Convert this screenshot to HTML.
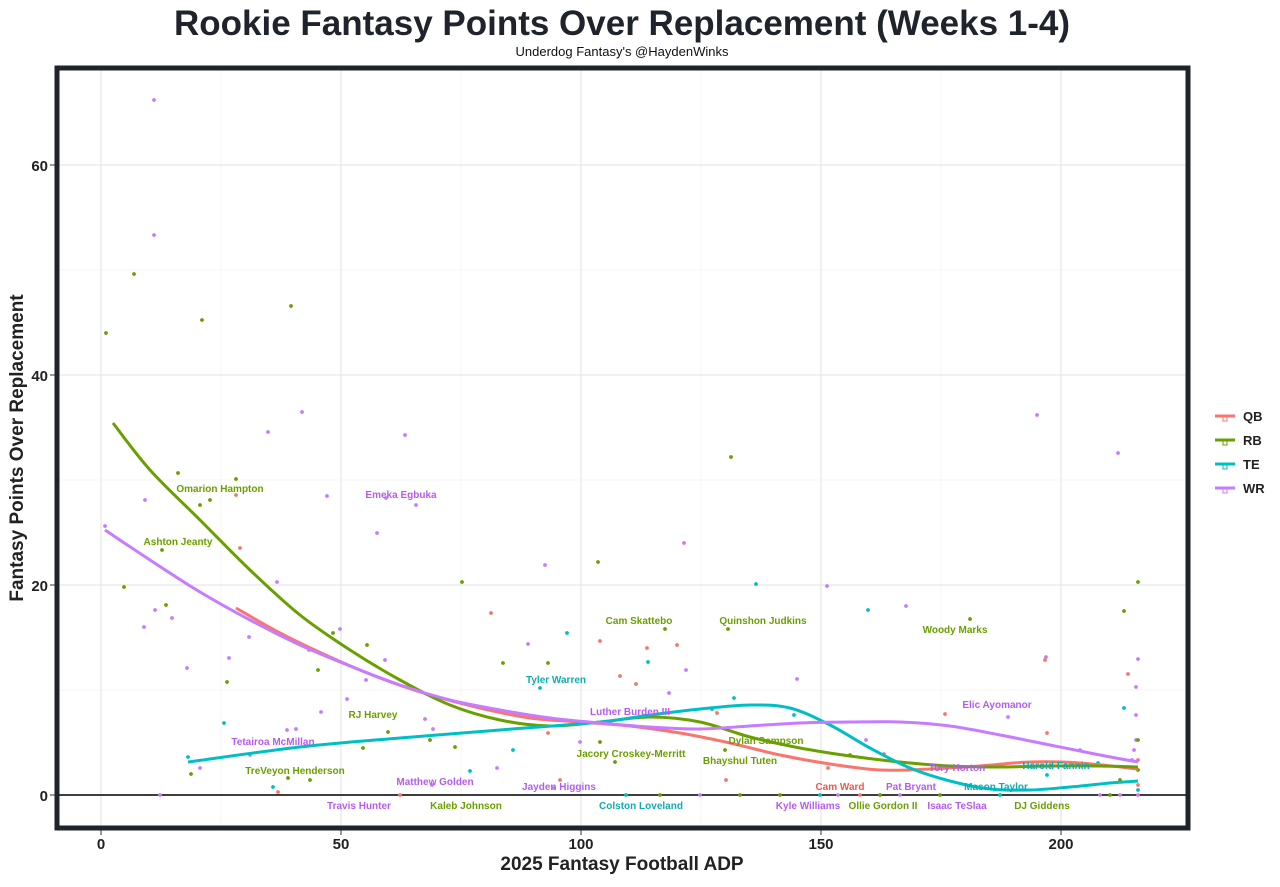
<!DOCTYPE html><html><head><style>body{margin:0;background:#fff}svg text{font-family:"Liberation Sans",sans-serif}</style></head><body>
<svg id="s" width="1280" height="882" xmlns="http://www.w3.org/2000/svg">
<rect width="1280" height="882" fill="#fff"/>
<text x="622" y="35" font-size="35" font-weight="bold" text-anchor="middle" fill="#1f232b">Rookie Fantasy Points Over Replacement (Weeks 1-4)</text>
<text x="622" y="56" font-size="13" text-anchor="middle" fill="#111">Underdog Fantasy's @HaydenWinks</text>
<g id="grid"></g>
<line x1="59" x2="1186" y1="795" y2="795" stroke="#000" stroke-width="1.5"/>
<g id="pts"></g><g id="lines"></g><g id="labs" font-size="10" font-weight="bold" text-anchor="middle"></g>
<rect x="57" y="68" width="1131" height="760" fill="none" stroke="#1f232b" stroke-width="5"/>
<g font-size="15" font-weight="bold" fill="#222" text-anchor="end">
<text x="48" y="171">60</text><text x="48" y="381">40</text><text x="48" y="591">20</text><text x="48" y="801">0</text></g>
<g font-size="15" font-weight="bold" fill="#222" text-anchor="middle">
<text x="101" y="849">0</text><text x="341" y="849">50</text><text x="581" y="849">100</text><text x="821" y="849">150</text><text x="1061" y="849">200</text></g>
<text x="622" y="870" font-size="19" font-weight="bold" text-anchor="middle" fill="#222">2025 Fantasy Football ADP</text>
<text transform="translate(23,448) rotate(-90)" font-size="19" font-weight="bold" text-anchor="middle" fill="#222">Fantasy Points Over Replacement</text>
<g id="leg" font-size="13" font-weight="bold" fill="#222"></g>
</svg>
<script>
const C={Q:"#F8766D",R:"#6a9f00",T:"#00BFC4",W:"#C77CFF"},L={Q:"#e85a50",R:"#6a9f00",T:"#12abb0",W:"#b45cf0"};
const ns="http://www.w3.org/2000/svg";function el(p,t,a,tx){const e=document.createElementNS(ns,t);for(const k in a)e.setAttribute(k,a[k]);if(tx)e.textContent=tx;document.getElementById(p).appendChild(e);}
[101,341,581,821,1061].forEach(x=>{el("grid","line",{x1:x,x2:x,y1:70,y2:826,stroke:"#e6e6e6","stroke-width":1.2});el("grid","line",{x1:x,x2:x,y1:830,y2:835,stroke:"#333","stroke-width":1});});
[221,461,701,941].forEach(x=>el("grid","line",{x1:x,x2:x,y1:70,y2:826,stroke:"#f2f2f2","stroke-width":0.8}));
[165,375,585,795].forEach(y=>{el("grid","line",{x1:59,x2:1186,y1:y,y2:y,stroke:"#e6e6e6","stroke-width":1.2});el("grid","line",{x1:50,x2:55,y1:y,y2:y,stroke:"#333","stroke-width":1});});
[270,480,690].forEach(y=>el("grid","line",{x1:59,x2:1186,y1:y,y2:y,stroke:"#f2f2f2","stroke-width":0.8}));
const P={W:[[154,100],[154,235],[302,412],[268,432],[405,435],[327,496],[145,500],[105,526],[386,498],[416,505],[377,533],[277,582],[155,610],[144,627],[172,618],[187,668],[229,658],[249,637],[340,629],[366,680],[385,660],[347,699],[321,712],[545,565],[684,543],[528,644],[669,693],[686,670],[797,679],[827,586],[906,606],[866,740],[1008,717],[1046,657],[1037,415],[1118,453],[1138,659],[1136,687],[1136,740],[1080,750],[287,730],[296,729],[425,719],[433,729],[432,785],[513,714],[497,768],[554,788],[160,795],[200,768],[250,755],[580,742],[838,795],[1136,715],[1134,750],[1132,760],[1100,795],[1120,795],[1138,795],[900,795],[700,795]],
R:[[106,333],[134,274],[202,320],[291,306],[236,479],[178,473],[200,505],[162,550],[124,587],[166,605],[333,633],[210,500],[227,682],[318,670],[367,645],[462,582],[503,663],[548,663],[598,562],[665,629],[731,457],[728,629],[970,619],[1124,611],[1138,582],[191,774],[288,778],[310,780],[363,748],[388,732],[430,740],[455,747],[600,742],[615,762],[725,750],[850,755],[1120,780],[1138,740],[1138,770],[740,795],[780,795],[880,795],[940,795],[1110,795],[660,795]],
Q:[[236,495],[240,548],[309,650],[491,613],[600,641],[620,676],[636,684],[647,648],[677,645],[548,733],[560,780],[945,714],[828,768],[1045,660],[1128,674],[1047,733],[1138,760],[278,792],[717,713],[726,780],[884,754],[400,795],[860,795],[1138,785]],
T:[[224,723],[188,757],[273,787],[470,771],[513,750],[540,688],[567,633],[648,662],[712,709],[734,698],[756,584],[794,715],[868,610],[1124,708],[1047,775],[1098,763],[1138,790],[626,795],[820,795],[1000,795]]};
for(const k in P)P[k].forEach(p=>el("pts","circle",{cx:p[0],cy:p[1],r:1.9,fill:C[k]}));
const S={R:[[113,423],[150,470],[200,520],[250,570],[300,615],[350,650],[400,680],[450,705],[500,720],[550,726],[600,722],[650,717],[700,722],[750,737],[800,748],[850,756],[900,762],[950,766],[1000,767],[1050,766],[1100,766],[1138,767]],
W:[[105,530],[150,560],[200,592],[250,620],[300,645],[350,666],[400,685],[450,700],[500,710],[550,718],[600,723],[650,727],[700,729],[750,726],[800,723],[850,722],[900,722],[950,726],[1000,735],[1050,745],[1100,755],[1138,762]],
Q:[[236,608],[280,633],[330,657],[380,678],[430,695],[480,708],[530,718],[580,722],[630,726],[680,733],[730,743],[780,755],[830,764],[880,770],[930,769],[980,766],[1030,762],[1080,763],[1138,769]],
T:[[188,762],[300,747],[400,738],[500,730],[600,722],[650,715],[700,709],[750,705],[790,708],[830,725],[870,748],[910,768],[950,781],[990,789],[1030,790],[1070,787],[1110,783],[1138,781]]};
function smooth(p){let d="M"+p[0];for(let i=0;i<p.length-1;i++){const a=p[i-1]||p[i],b=p[i],c=p[i+1],e=p[i+2]||c;d+=` C${b[0]+(c[0]-a[0])/6},${b[1]+(c[1]-a[1])/6} ${c[0]-(e[0]-b[0])/6},${c[1]-(e[1]-b[1])/6} ${c[0]},${c[1]}`;}return d;}
for(const k of ["Q","R","T","W"])el("lines","path",{d:smooth(S[k]),fill:"none",stroke:C[k],"stroke-width":3,"stroke-linejoin":"round"});
const T=[["Omarion Hampton",220,492,"R"],["Emeka Egbuka",401,498,"W"],["Ashton Jeanty",178,545,"R"],["Cam Skattebo",639,624,"R"],["Quinshon Judkins",763,624,"R"],["Woody Marks",955,633,"R"],["Tyler Warren",556,683,"T"],["RJ Harvey",373,718,"R"],["Elic Ayomanor",997,708,"W"],["Luther Burden III",630,715,"W"],["Tetairoa McMillan",273,745,"W"],["Dylan Sampson",766,744,"R"],["Jacory Croskey-Merritt",631,757,"R"],["Bhayshul Tuten",740,764,"R"],["TreVeyon Henderson",295,774,"R"],["Tory Horton",957,771,"W"],["Harold Fannin",1056,769,"T"],["Matthew Golden",435,785,"W"],["Jayden Higgins",559,790,"W"],["Cam Ward",840,790,"Q"],["Pat Bryant",911,790,"W"],["Mason Taylor",996,790,"T"],["Travis Hunter",359,809,"W"],["Kaleb Johnson",466,809,"R"],["Colston Loveland",641,809,"T"],["Kyle Williams",808,809,"W"],["Ollie Gordon II",883,809,"R"],["Isaac TeSlaa",957,809,"W"],["DJ Giddens",1042,809,"R"]];
T.forEach(t=>el("labs","text",{x:t[1],y:t[2],fill:L[t[3]]},t[0]));
[["QB","Q",416],["RB","R",440],["TE","T",464],["WR","W",488]].forEach(l=>{el("leg","line",{x1:1215,x2:1235,y1:l[2],y2:l[2],stroke:C[l[1]],"stroke-width":3});el("leg","rect",{x:1223,y:l[2]+1,width:4,height:4,fill:"#fff",stroke:C[l[1]],"stroke-width":1});el("leg","text",{x:1243,y:l[2]+5},l[0]);});
</script></body></html>
